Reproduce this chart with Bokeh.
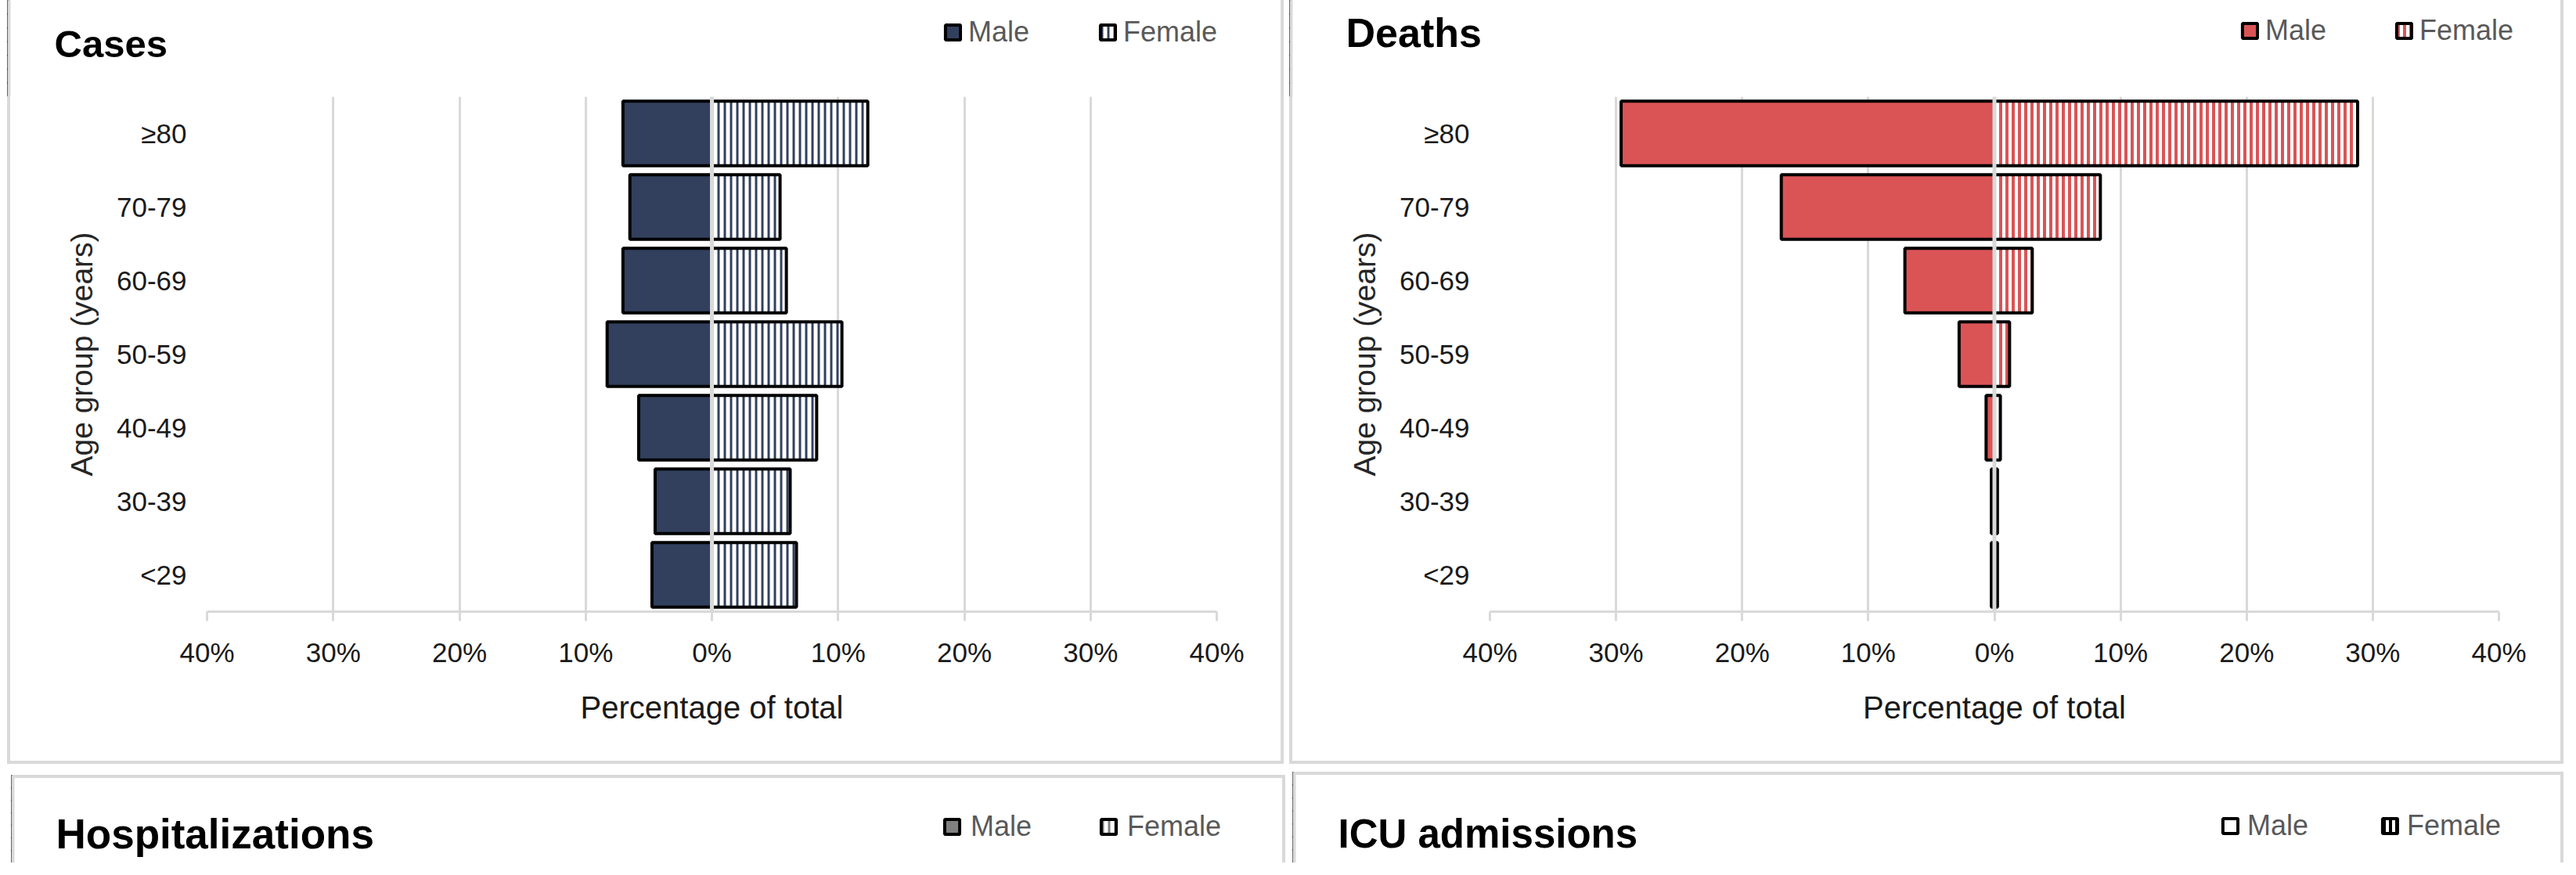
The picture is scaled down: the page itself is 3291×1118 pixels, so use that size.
from bokeh.plotting import figure
from bokeh.layouts import column, row
from bokeh.models import (ColumnDataSource, FactorRange, Range1d, FixedTicker, Span, Label,
                          Legend, LegendItem, Spacer, BoxAnnotation)
from bokeh.embed import file_html
from bokeh.resources import INLINE

# ---------------- data ----------------
AGE_GROUPS = ["<29", "30-39", "40-49", "50-59", "60-69", "70-79", "≥80"]
CASES_MALE = [4.75, 4.5, 5.8, 8.3, 7.05, 6.5, 7.05]
CASES_FEMALE = [6.7, 6.2, 8.3, 10.3, 5.9, 5.4, 12.35]
DEATHS_MALE = [0.24, 0.24, 0.66, 2.8, 7.1, 16.9, 29.6]
DEATHS_FEMALE = [0.24, 0.24, 0.47, 1.2, 3.0, 8.4, 28.8]
# the hospitalization / ICU panels are cut off in the picture: their values are not visible
HOSP_MALE = [None, None, None, None, None, None, None]
HOSP_FEMALE = [None, None, None, None, None, None, None]
ICU_MALE = [None, None, None, None, None, None, None]
ICU_FEMALE = [None, None, None, None, None, None, None]
X_TICKS = [-40, -30, -20, -10, 0, 10, 20, 30, 40]
X_TICK_LABELS = ["40%", "30%", "20%", "10%", "0%", "10%", "20%", "30%", "40%"]
PANEL_TITLES = ["Cases", "Deaths", "Hospitalizations", "ICU admissions"]
SERIES = ["Male", "Female"]

FONT = "Liberation Sans"
GRID = "#d9d9d9"
NAVY = "#32405E"
RED = "#DA5456"

SH_L = "inset 4px 0 0 0 #d9d9d9"
SH_R = "inset -4px 0 0 0 #d9d9d9"
SH_B = "inset 0 -4px 0 0 #d9d9d9"
SH_T = "inset 0 4px 0 0 #d9d9d9"


def make_source(male, female):
    return ColumnDataSource(dict(age=AGE_GROUPS,
                                 male=[None if v is None else -v for v in male],
                                 female=female))


def clear_fig(p):
    p.background_fill_alpha = 0
    p.border_fill_alpha = 0
    p.outline_line_color = None


def style_legend(lg, standoff):
    lg.border_line_color = None
    lg.background_fill_alpha = 0
    lg.padding = 0
    lg.margin = 0
    lg.spacing = 0
    lg.glyph_width = 24
    lg.glyph_height = 24
    lg.label_standoff = standoff
    lg.label_text_font = FONT
    lg.label_text_font_size = "36px"
    lg.label_text_color = "#595959"


def header(src, title, title_size, width, height, tx, ty, leg_x, leg_y, leg_standoff,
           male_style, female_style, shadows):
    """Panel header strip: title and legend. The bars of its renderers lie left of its
    x range; only their legend glyphs show."""
    p = figure(width=width, height=height, x_range=Range1d(500, 10000),
               y_range=FactorRange(*AGE_GROUPS),
               x_axis_location=None, y_axis_location=None, toolbar_location=None,
               output_backend="svg", min_border=0, frame_align=False,
               styles={"box-shadow": ", ".join(shadows)})
    clear_fig(p)
    p.grid.visible = False
    rm = p.hbar(y="age", left=0, right="male", height=0.88, source=src,
                line_color="black", line_width=4, **male_style)
    rf = p.hbar(y="age", left=0, right="female", height=0.88, source=src,
                line_color="black", line_width=4, **female_style)
    # left panel border band, drawn over the edge where the off-range bars are clamped
    p.add_layout(BoxAnnotation(left=0, right=4, bottom=0, top=height,
                               left_units="screen", right_units="screen",
                               bottom_units="screen", top_units="screen",
                               fill_color=GRID, fill_alpha=1, line_color=None,
                               level="overlay", editable=False))
    p.add_layout(Label(x=tx, y=ty, x_units="screen", y_units="screen", text=title,
                       text_font=FONT, text_font_size=title_size,
                       text_font_style="bold", text_color="black",
                       text_baseline="alphabetic"))
    for name, r, lx in zip(SERIES, [rm, rf], leg_x):
        lg = Legend(items=[LegendItem(label=name, renderers=[r])], location=(lx, leg_y),
                    orientation="horizontal")
        style_legend(lg, leg_standoff)
        p.add_layout(lg)
    return p


def pyramid(src, male_style, female_style, width, height, min_left, min_right, min_bottom):
    p = figure(width=width, height=height, y_range=FactorRange(*AGE_GROUPS),
               x_range=Range1d(-40, 40), output_backend="svg", toolbar_location=None,
               min_border_left=min_left, min_border_right=min_right,
               min_border_top=0, min_border_bottom=min_bottom, frame_align=False,
               styles={"box-shadow": ", ".join([SH_L, SH_R, SH_B])})
    clear_fig(p)

    p.hbar(y="age", left=0, right="male", height=0.88, source=src,
           line_color="black", line_width=4, **male_style)
    p.hbar(y="age", left=0, right="female", height=0.88, source=src,
           line_color="black", line_width=4, **female_style)

    p.add_layout(Span(location=0, dimension="height", line_color=GRID, line_width=5))

    xa = p.xaxis[0]
    xa.ticker = FixedTicker(ticks=X_TICKS)
    xa.major_label_overrides = {float(t): l for t, l in zip(X_TICKS, X_TICK_LABELS)}
    xa.axis_line_color = GRID
    xa.axis_line_width = 3
    xa.major_tick_line_color = GRID
    xa.major_tick_line_width = 3
    xa.major_tick_out = 12
    xa.major_tick_in = 0
    xa.minor_tick_line_color = None
    xa.major_label_text_font = FONT
    xa.major_label_text_font_size = "35px"
    xa.major_label_text_color = "#1a1a1a"
    xa.major_label_standoff = 20
    xa.axis_label = "Percentage of total"
    xa.axis_label_text_font = FONT
    xa.axis_label_text_font_size = "40px"
    xa.axis_label_text_font_style = "normal"
    xa.axis_label_text_color = "#1a1a1a"
    xa.axis_label_standoff = 26

    ya = p.yaxis[0]
    ya.axis_line_color = None
    ya.major_tick_line_color = None
    ya.minor_tick_line_color = None
    ya.major_tick_out = 0
    ya.major_tick_in = 0
    ya.major_label_text_font = FONT
    ya.major_label_text_font_size = "35px"
    ya.major_label_text_color = "#1a1a1a"
    ya.major_label_standoff = 26
    ya.axis_label = "Age group (years)"
    ya.axis_label_text_font = FONT
    ya.axis_label_text_font_size = "39px"
    ya.axis_label_text_font_style = "normal"
    ya.axis_label_text_color = "#262626"
    ya.axis_label_standoff = 20

    p.xgrid.grid_line_color = GRID
    p.xgrid.grid_line_width = 3
    p.ygrid.visible = False
    return p


CASES_M = dict(fill_color=NAVY)
CASES_F = dict(fill_color="white", hatch_pattern="vertical_line", hatch_color=NAVY,
               hatch_weight=3, hatch_scale=8)
DEATHS_M = dict(fill_color=RED)
DEATHS_F = dict(fill_color="white", hatch_pattern="vertical_line", hatch_color=RED,
                hatch_weight=4, hatch_scale=8)
HOSP_M = dict(fill_color="#808080")
HOSP_F = dict(fill_color="white", hatch_pattern="vertical_line", hatch_color="#808080",
              hatch_weight=3, hatch_scale=8)
ICU_M = dict(fill_color="white")
ICU_F = dict(fill_color="white", hatch_pattern="vertical_line", hatch_color="black",
             hatch_weight=4, hatch_scale=8)

src_cases = make_source(CASES_MALE, CASES_FEMALE)
src_deaths = make_source(DEATHS_MALE, DEATHS_FEMALE)
src_hosp = make_source(HOSP_MALE, HOSP_FEMALE)
src_icu = make_source(ICU_MALE, ICU_FEMALE)

WA, WB = 1631, 1628
HH, CH = 123, 853

h_cases = header(src_cases, PANEL_TITLES[0], "49px", WA, HH, 60, 68, (1196, 1394), 61, 8,
                 CASES_M, CASES_F, [SH_L, SH_R])
c_cases = pyramid(src_cases, CASES_M, CASES_F, WA, CH, 255, 86, 195)
h_deaths = header(src_deaths, PANEL_TITLES[1], "52px", WB, HH, 72, 82, (1215, 1412), 63, 8,
                  DEATHS_M, DEATHS_F, [SH_L, SH_R])
c_deaths = pyramid(src_deaths, DEATHS_M, DEATHS_F, WB, CH, 256, 83, 195)

WC, WD = 1628, 1624
h_hosp = header(src_hosp, PANEL_TITLES[2], "53px", WC, 112, 57, 37, (1190, 1390), 25, 12,
                HOSP_M, HOSP_F, [SH_L, SH_R, SH_T])
h_icu = header(src_icu, PANEL_TITLES[3], "51px", WD, 116, 58, 37, (1186, 1390), 26, 10,
               ICU_M, ICU_F, [SH_L, SH_R, SH_T])

row1 = row(Spacer(width=9, height=HH + CH), column(h_cases, c_cases),
           Spacer(width=7, height=HH + CH), column(h_deaths, c_deaths))
row2 = row(Spacer(width=14, height=126), column(Spacer(width=WC, height=14), h_hosp),
           Spacer(width=9, height=126), column(Spacer(width=WD, height=10), h_icu))
layout = column(row1, row2)

with open("out.html", "w", encoding="utf-8") as f:
    f.write(file_html(layout, INLINE))
